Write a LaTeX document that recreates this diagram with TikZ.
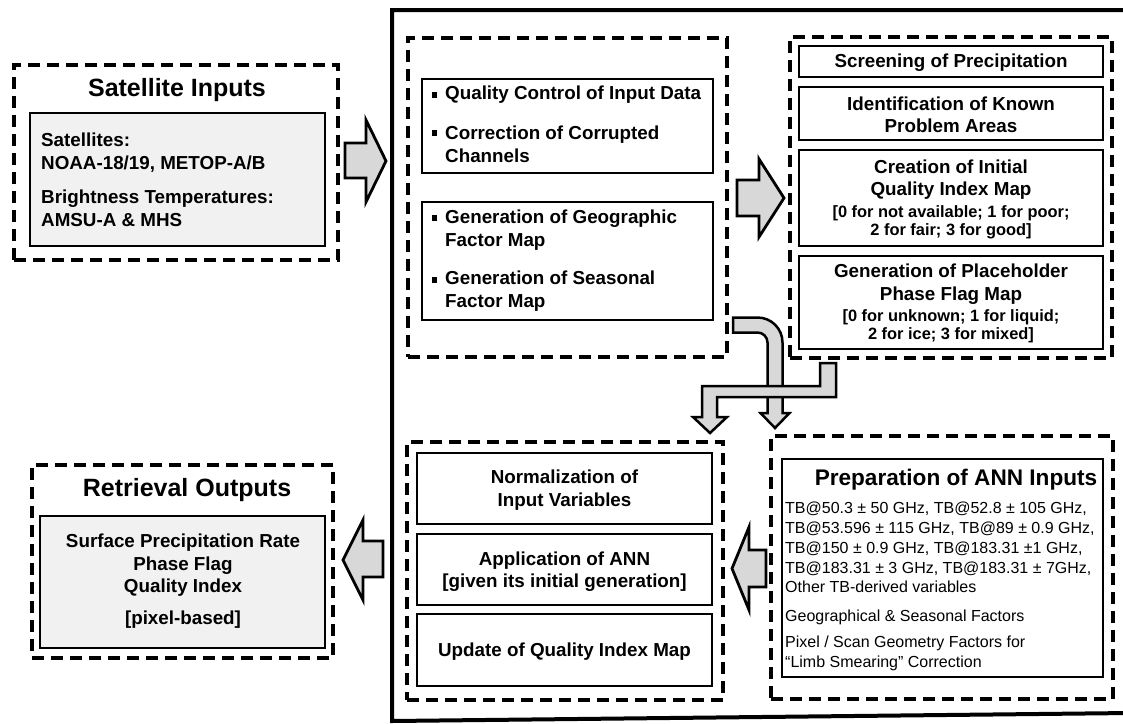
\documentclass[tikz,border=0pt]{standalone}
\usepackage{fontspec}
\setmainfont{Liberation Sans}
\definecolor{arrowgray}{RGB}{216,216,216}
\definecolor{boxgray}{RGB}{241,241,241}
\begin{document}
\begin{tikzpicture}[x=1pt,y=-1pt,
  dbox/.style={draw, line width=4pt, dash pattern=on 12pt off 7pt, inner sep=0pt},
  sbox/.style={draw, line width=2pt, inner sep=0pt},
  gbox/.style={sbox, fill=boxgray},
  blk/.style={draw, line width=2.8pt, fill=arrowgray, line join=miter},
  ttl/.style={font=\bfseries\fontsize{25}{30}\selectfont, inner sep=0pt},
  anntl/.style={font=\bfseries\fontsize{22.6}{27}\selectfont, inner sep=0pt},
  bt/.style={font=\bfseries\fontsize{18.8}{22.5}\selectfont, align=center, inner sep=0pt},
  btl/.style={font=\bfseries\fontsize{18.8}{22.5}\selectfont, align=left, inner sep=0pt, anchor=west},
  sub/.style={font=\bfseries\fontsize{16.4}{18}\selectfont, align=center, inner sep=0pt},
  body/.style={font=\fontsize{16}{19.8}\selectfont, align=left, inner sep=0pt, anchor=west},
  bul/.style={fill, minimum size=5.5pt, inner sep=0pt},
]
\useasboundingbox (0,0) rectangle (1123,723);

% big frame
\draw[line width=4pt] (1130,10) -- (392,10) -- (392,721) -- (1130,713);

% ---------- Satellite Inputs ----------
\node[dbox, minimum width=324pt, minimum height=195pt] (sat) at (176,162.5) {};
\node[gbox, minimum width=295pt, minimum height=133pt] (satin) at (177.5,179.5) {};
\node[ttl] (sattl) at (177,90) {Satellite Inputs};
\node[btl] (sata) at (41,152.5) {Satellites:\\NOAA-18/19, METOP-A/B};
\node[btl] (satb) at (41,208.5) {Brightness Temperatures:\\AMSU-A \& MHS};

% arrow to processing
\draw[blk] (345,143) -- (366,143) -- (366,120) -- (386,161) -- (366,202) -- (366,178) -- (345,178) -- cycle;

% ---------- Top-middle group ----------
\node[dbox, minimum width=319pt, minimum height=319pt] (tm) at (567.5,197.5) {};
\node[sbox, minimum width=291pt, minimum height=94pt] (qa) at (567.5,126) {};
\node[sbox, minimum width=291pt, minimum height=118pt] (gf) at (567.5,260.5) {};
\node[bul] (b1) at (434.5,95) {};
\node[btl] (q1) at (445,95) {Quality Control of Input Data};
\node[bul] (b2) at (434.5,133) {};
\node[btl] (q2) at (445,144.5) {Correction of Corrupted\\Channels};
\node[bul] (b3) at (434.5,218) {};
\node[btl] (g1) at (445,230) {Generation of Geographic\\Factor Map};
\node[bul] (b4) at (434.5,280) {};
\node[btl] (g2) at (445,291) {Generation of Seasonal\\Factor Map};

% arrow to right group
\draw[blk] (737,180) -- (759,180) -- (759,159) -- (784,198) -- (759,237) -- (759,216) -- (737,216) -- cycle;

% ---------- Top-right group ----------
\node[dbox, minimum width=322pt, minimum height=321pt] (tr) at (951,197.5) {};
\node[sbox, minimum width=304pt, minimum height=31pt] (scr) at (951,61.5) {};
\node[sbox, minimum width=304pt, minimum height=53pt] (idf) at (951,113.5) {};
\node[sbox, minimum width=304pt, minimum height=96pt] (cre) at (951,198) {};
\node[sbox, minimum width=304pt, minimum height=93pt] (phs) at (951,302.5) {};
\node[bt] (scrt) at (951,63) {Screening of Precipitation};
\node[bt] (idft) at (951,115) {Identification of Known\\Problem Areas};
\node[bt] (cret) at (951,179.5) {Creation of Initial\\Quality Index Map};
\node[sub] (cres) at (951,222) {[0 for not available; 1 for poor;\\2 for fair; 3 for good]};
\node[bt] (phst) at (951,284) {Generation of Placeholder\\Phase Flag Map};
\node[sub] (phss) at (951,326) {[0 for unknown; 1 for liquid;\\2 for ice; 3 for mixed]};

% ---------- bent arrows ----------
\draw[blk, line width=2.5pt] (733,317.5) -- (757.5,317.5) .. controls (771.3,317.5) and (782.5,328.7) .. (782.5,342.5)
  -- (782.5,413) -- (789.5,413) -- (775,428) -- (760.5,413) -- (767.5,413) -- (767.5,342.5)
  .. controls (767.5,337) and (763,332.5) .. (757.5,332.5) -- (733,332.5) -- cycle;
\draw[blk, line width=2.5pt] (820,363) -- (836,363) -- (836,397) -- (717,397) -- (717,417) -- (727,417)
  -- (710,433) -- (693,417) -- (702,417) -- (702,386) -- (820,386) -- cycle;

% ---------- Bottom-middle group ----------
\node[dbox, minimum width=316pt, minimum height=258pt] (bm) at (565,571) {};
\node[sbox, minimum width=295pt, minimum height=71pt] (nrm) at (564.5,488.5) {};
\node[sbox, minimum width=295pt, minimum height=71pt] (app) at (564.5,569.5) {};
\node[sbox, minimum width=295pt, minimum height=72pt] (upd) at (564.5,650) {};
\node[bt] (nrmt) at (564.5,490) {Normalization of\\Input Variables};
\node[bt] (appt) at (564.5,571.5) {Application of ANN\\{}[given its initial generation]};
\node[bt] (updt) at (564.5,652) {Update of Quality Index Map};

% arrow from ANN inputs
\draw[blk] (766,550) -- (749,550) -- (749,527) -- (732,568.5) -- (749,610) -- (749,587) -- (766,587) -- cycle;

% ---------- ANN inputs ----------
\node[dbox, minimum width=342pt, minimum height=263pt] (ann) at (942,567.5) {};
\node[sbox, minimum width=321pt, minimum height=218pt] (annin) at (942.5,568) {};
\node[anntl] (anntt) at (956,480) {Preparation of ANN Inputs};
\node[body] (tb) at (785,547.5) {TB@50.3 ± 50 GHz, TB@52.8 ± 105 GHz,\\TB@53.596 ± 115 GHz, TB@89 ± 0.9 GHz,\\TB@150 ± 0.9 GHz, TB@183.31 ±1 GHz,\\TB@183.31 ± 3 GHz, TB@183.31 ± 7GHz,\\Other TB-derived variables};
\node[body] (geo) at (785,617) {Geographical \& Seasonal Factors};
\node[body] (pix) at (785,653) {Pixel / Scan Geometry Factors for\\“Limb Smearing” Correction};

% arrow to outputs
\draw[blk] (383,541) -- (363,541) -- (363,520) -- (343,560) -- (363,600) -- (363,577) -- (383,577) -- cycle;

% ---------- Retrieval Outputs ----------
\node[dbox, minimum width=301pt, minimum height=193pt] (ret) at (182.5,561.5) {};
\node[gbox, minimum width=285pt, minimum height=132pt] (retin) at (182.5,582) {};
\node[ttl] (rett) at (187,490) {Retrieval Outputs};
\node[bt] (retx) at (183,565.5) {Surface Precipitation Rate\\Phase Flag\\Quality Index};
\node[bt] (retp) at (183,620) {[pixel-based]};
\end{tikzpicture}
\end{document}
